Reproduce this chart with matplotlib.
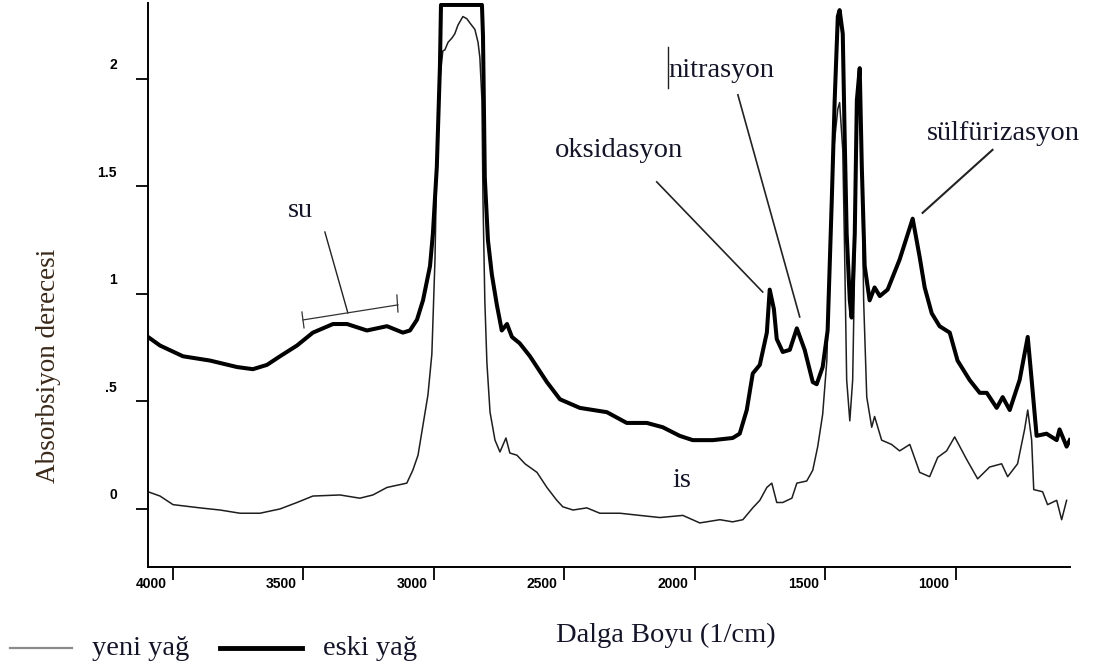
import numpy as np
import matplotlib
matplotlib.use("Agg")
from matplotlib import pyplot as plt
from matplotlib.transforms import ScaledTranslation
from matplotlib.lines import Line2D

# yeni yag (ince cizgi) - dalga sayisi ve absorbans
yeni_w = [4096, 4050, 4000, 3897, 3820, 3743, 3667, 3590, 3525, 3464,
          3360, 3284, 3234, 3180, 3104, 3081, 3061, 3042, 3023, 3008,
          2996, 2989, 2977, 2966, 2958, 2946, 2931, 2920, 2908, 2889,
          2874, 2862, 2843, 2831, 2824, 2816, 2812, 2805, 2797, 2785,
          2766, 2747, 2724, 2709, 2682, 2651, 2605, 2567, 2529, 2506,
          2467, 2414, 2364, 2287, 2211, 2134, 2046, 1981, 1904, 1855,
          1816, 1778, 1751, 1724, 1705, 1686, 1663, 1628, 1609, 1571,
          1548, 1529, 1510, 1494, 1483, 1468, 1452, 1445, 1433, 1426,
          1418, 1406, 1395, 1387, 1379, 1368, 1360, 1353, 1341, 1322,
          1311, 1284, 1246, 1215, 1176, 1138, 1100, 1069, 1035, 1004,
          958, 916, 870, 824, 801, 763, 736, 724, 709, 701,
          667, 648, 613, 594, 575]
yeni_a = [0.08, 0.06, 0.02, 0.005, -0.005, -0.02, -0.02, 0.0, 0.03, 0.06,
          0.065, 0.05, 0.065, 0.10, 0.12, 0.18, 0.25, 0.39, 0.53, 0.72,
          1.16, 1.62, 2.0, 2.13, 2.135, 2.17, 2.19, 2.21, 2.25, 2.29,
          2.28, 2.26, 2.23, 2.17, 2.10, 1.90, 1.44, 0.97, 0.68, 0.45,
          0.32, 0.265, 0.33, 0.26, 0.25, 0.21, 0.17, 0.10, 0.04, 0.01,
          -0.005, 0.005, -0.02, -0.02, -0.03, -0.04, -0.03, -0.065, -0.05, -0.06,
          -0.05, 0.005, 0.04, 0.10, 0.12, 0.03, 0.03, 0.05, 0.12, 0.13,
          0.18, 0.29, 0.44, 0.69, 1.2, 1.67, 1.86, 1.89, 1.67, 1.2,
          0.60, 0.41, 0.60, 1.16, 1.81, 2.02, 1.62, 0.97, 0.52, 0.38,
          0.43, 0.32, 0.30, 0.27, 0.30, 0.17, 0.15, 0.24, 0.27, 0.335,
          0.23, 0.14, 0.195, 0.21, 0.15, 0.21, 0.37, 0.46, 0.32, 0.09,
          0.08, 0.02, 0.04, -0.05, 0.04]

# eski yag (kalin cizgi)
eski_w = [4096, 4050, 3962, 3858, 3755, 3694, 3640, 3590, 3525, 3464,
          3387, 3333, 3257, 3180, 3119, 3092, 3065, 3042, 3015, 3004,
          2989, 2977, 2973, 2816, 2812, 2809, 2805, 2793, 2778, 2759,
          2740, 2720, 2701, 2671, 2632, 2567, 2517, 2441, 2337, 2261,
          2184, 2123, 2058, 2008, 1931, 1855, 1828, 1801, 1778, 1751,
          1724, 1713, 1697, 1686, 1663, 1636, 1609, 1579, 1548, 1533,
          1510, 1491, 1475, 1464, 1452, 1445, 1433, 1426, 1418, 1406,
          1399, 1387, 1379, 1368, 1360, 1349, 1330, 1311, 1291, 1261,
          1215, 1165, 1138, 1119, 1092, 1062, 1023, 993, 947, 908,
          881, 843, 820, 793, 755, 724, 709, 690, 652, 613,
          602, 575, 563]
eski_a = [0.80, 0.76, 0.71, 0.69, 0.66, 0.65, 0.67, 0.71, 0.76, 0.82,
          0.86, 0.86, 0.83, 0.85, 0.82, 0.83, 0.88, 0.97, 1.13, 1.28,
          1.59, 2.06, 2.344, 2.344, 2.20, 1.92, 1.54, 1.25, 1.09, 0.95,
          0.83, 0.86, 0.80, 0.77, 0.71, 0.59, 0.51, 0.47, 0.45, 0.40,
          0.40, 0.38, 0.34, 0.32, 0.32, 0.33, 0.35, 0.46, 0.63, 0.67,
          0.82, 1.02, 0.93, 0.79, 0.73, 0.74, 0.84, 0.74, 0.59, 0.58,
          0.66, 0.83, 1.44, 1.90, 2.29, 2.32, 2.21, 1.75, 1.28, 0.97,
          0.89, 1.28, 1.90, 2.05, 1.59, 1.13, 0.97, 1.03, 0.99, 1.02,
          1.16, 1.35, 1.17, 1.03, 0.91, 0.85, 0.82, 0.69, 0.60, 0.54,
          0.54, 0.47, 0.52, 0.46, 0.60, 0.80, 0.60, 0.34, 0.35, 0.32,
          0.37, 0.29, 0.32]

x_ticks = [4000, 3500, 3000, 2500, 2000, 1500, 1000]
x_tick_labels = ["4000", "3500", "3000", "2500", "2000", "1500", "1000"]
y_ticks = [0, 0.5, 1, 1.5, 2]
y_tick_labels = ["0", ".5", "1", "1.5", "2"]

serif = "Liberation Serif"
txt_color = "#141428"

fig = plt.figure(figsize=(10.95, 6.72), dpi=100)
ax = fig.add_axes([148/1095, 105/672, 922/1095, 564/672])

ax.plot(yeni_w, yeni_a, color="#1e1e1e", lw=1.1)
ax.plot(eski_w, eski_a, color="black", lw=2.9, solid_joinstyle="round")

ax.set_xlim(4096, 562)
ax.set_ylim(-0.27, 2.353)
ax.spines["top"].set_visible(False)
ax.spines["right"].set_visible(False)
ax.spines["left"].set_linewidth(1.4)
ax.spines["bottom"].set_linewidth(1.4)

ax.set_xticks(x_ticks)
ax.set_xticklabels(x_tick_labels)
ax.set_yticks(y_ticks)
ax.set_yticklabels(y_tick_labels)
ax.tick_params(axis="both", direction="out", length=9, width=1.3)
ax.tick_params(axis="x", pad=0)
ax.tick_params(axis="y", pad=13.5)

for lab in ax.get_xticklabels():
    lab.set_fontfamily("Liberation Sans")
    lab.set_fontweight("bold")
    lab.set_fontsize(10)
    lab.set_transform(lab.get_transform() + ScaledTranslation(-0.22, 0.03, fig.dpi_scale_trans))
for lab in ax.get_yticklabels():
    lab.set_fontfamily("Liberation Sans")
    lab.set_fontweight("bold")
    lab.set_fontsize(10)
    lab.set_transform(lab.get_transform() + ScaledTranslation(0, 0.15, fig.dpi_scale_trans))

ax.set_ylabel("Absorbsiyon derecesi", family=serif, fontsize=19.5, color="#3a2818", va="center")
ax.yaxis.set_label_coords(-99/922, (567-366)/564)
ax.set_xlabel("Dalga Boyu (1/cm)", family=serif, fontsize=20.5, color=txt_color, va="baseline")
ax.xaxis.set_label_coords((666-148)/922, (567-642)/564)

# etiketler
ax.text(3559, 1.358, "su", family=serif, fontsize=20.5, color=txt_color, ha="left", va="baseline")
ax.plot([3418, 3330], [1.288, 0.912], color="#222222", lw=1.0)
ax.plot([3502, 3138], [0.879, 0.949], color="#333333", lw=0.9)
ax.plot([3506, 3498], [0.916, 0.842], color="#333333", lw=0.9)
ax.plot([3142, 3138], [0.995, 0.916], color="#333333", lw=0.9)

ax.text(2537, 1.637, "oksidasyon", family=serif, fontsize=20.5, color=txt_color, ha="left", va="baseline")
ax.plot([2146, 1740], [1.521, 1.009], color="#222222", lw=1.2)

ax.text(2100, 2.009, "nitrasyon", family=serif, fontsize=20.5, color=txt_color, ha="left", va="baseline")
ax.plot([2104, 2104], [2.149, 1.958], color="#222222", lw=1.0)
ax.plot([1835, 1598], [1.926, 0.893], color="#222222", lw=1.2)

ax.text(1111, 1.716, "sülfürizasyon", family=serif, fontsize=20.5, color=txt_color, ha="left", va="baseline")
ax.plot([859, 1127], [1.670, 1.377], color="#222222", lw=1.5)

ax.text(2085, 0.102, "is", family=serif, fontsize=20.5, color=txt_color, ha="left", va="baseline")

# lejant
fig.add_artist(Line2D([10/1095, 72/1095], [1-648/672, 1-648/672], color="#8a8a8a", lw=1.6))
fig.text(92/1095, 1-655/672, "yeni yağ", family=serif, fontsize=20.5, color=txt_color, va="baseline")
fig.add_artist(Line2D([220/1095, 302/1095], [1-648/672, 1-648/672], color="black", lw=3.5))
fig.text(323/1095, 1-655/672, "eski yağ", family=serif, fontsize=20.5, color=txt_color, va="baseline")

fig.savefig("out.png", dpi=100)
